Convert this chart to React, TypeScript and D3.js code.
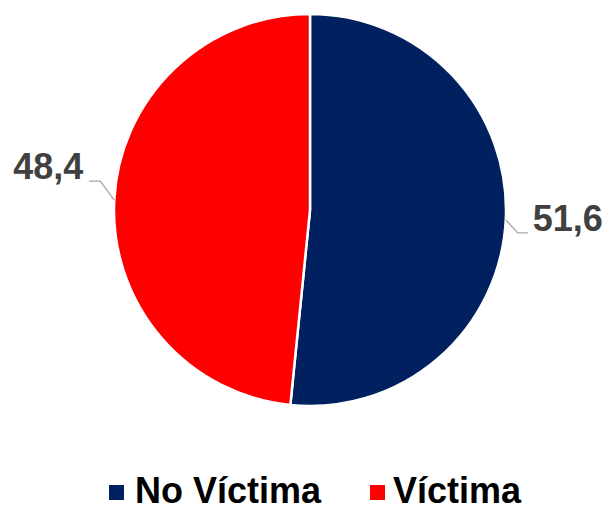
import React from "react";
import * as d3 from "d3";

const categories = ["No Víctima", "Víctima"];
const values = [51.6, 48.4];
const labels = ["51,6", "48,4"];
const colors = ["#002060", "#FF0000"];

export default function App() {
  const W = 609, H = 507;
  const cx = 310, cy = 210, r = 196;
  const pie = d3.pie<number>().sort(null).startAngle(0).endAngle(2 * Math.PI);
  const arcs = pie(values);
  const arcGen = d3.arc<d3.PieArcDatum<number>>().innerRadius(0).outerRadius(r);

  const leader = (a: d3.PieArcDatum<number>, i: number) => {
    const mid = (a.startAngle + a.endAngle) / 2;
    const ex = cx + r * Math.sin(mid);
    const ey = cy - r * Math.cos(mid);
    const right = Math.sin(mid) > 0;
    const ox = right ? 12 : -14;
    const oy = right ? 13 : -19;
    const elbow = [ex + ox, ey + oy];
    const end = [elbow[0] + (right ? 10 : -11), elbow[1]];
    return { pts: [[ex, ey], elbow, end], right, end };
  };

  return (
    <svg width={W} height={H} style={{ position: "absolute", left: 0, top: 0 }}>
      <rect width={W} height={H} fill="#fff" />
      <g transform={`translate(${cx},${cy})`}>
        {arcs.map((a, i) => (
          <path key={i} d={arcGen(a) || ""} fill={colors[i]} stroke="#fff" strokeWidth={2.5} strokeLinejoin="round" />
        ))}
      </g>
      {arcs.map((a, i) => {
        const l = leader(a, i);
        return (
          <g key={"l" + i}>
            <polyline points={l.pts.map((p) => p.join(",")).join(" ")} fill="none" stroke="#A6A6A6" strokeWidth={1.3} />
            <text
              x={l.right ? l.end[0] + 5 : l.end[0] - 6}
              y={l.end[1] - 2 + (l.right ? 0 : 0)}
              textAnchor={l.right ? "start" : "end"}
              fontFamily="'Liberation Sans', Arial, sans-serif"
              fontWeight="bold"
              fontSize={36}
              fill="#404040"
            >
              {labels[i]}
            </text>
          </g>
        );
      })}
      <g fontFamily="'Liberation Sans', Arial, sans-serif" fontWeight="bold" fontSize={36} fill="#000">
        <rect x={109} y={485} width={15} height={15} fill={colors[0]} />
        <text x={135} y={503}>{categories[0]}</text>
        <rect x={370} y={485} width={15} height={15} fill={colors[1]} />
        <text x={393} y={503}>{categories[1]}</text>
      </g>
    </svg>
  );
}
